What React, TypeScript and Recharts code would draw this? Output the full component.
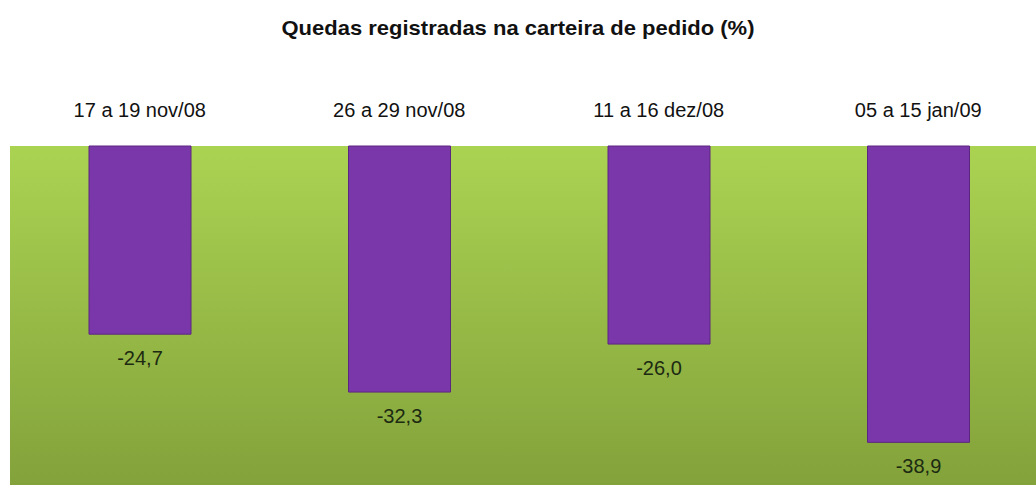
import { BarChart, Bar, XAxis, YAxis, CartesianGrid, LabelList } from "recharts";

const periods = ["17 a 19 nov/08", "26 a 29 nov/08", "11 a 16 dez/08", "05 a 15 jan/09"];
const drops = [-24.7, -32.3, -26.0, -38.9];

const chartData = periods.map((period, i) => ({ period, drop: drops[i] }));

const font = "'Liberation Sans', Arial, sans-serif";

const PeriodTick = ({ x, y, payload }: any) => (
  <text x={x} y={y} dy={-21} textAnchor="middle" fontFamily={font} fontSize={20} fill="#111">
    {payload.value}
  </text>
);

const DropLabel = ({ x, y, width, height, value }: any) => {
  const bottom = Math.max(y, y + height);
  return (
    <text
      x={x + width / 2}
      y={bottom + 31}
      textAnchor="middle"
      fontFamily={font}
      fontSize={20}
      fill="#1c2a12"
    >
      {Number(value).toFixed(1).replace(".", ",")}
    </text>
  );
};

export default function App() {
  return (
    <div style={{ position: "absolute", left: 0, top: 0, width: 1036, height: 485, overflow: "hidden", background: "#fff" }}>
      <svg width={1036} height={60} style={{ position: "absolute", left: 0, top: 0 }}>
        <text
          x={518}
          y={35}
          textAnchor="middle"
          fontFamily={font}
          fontWeight="bold"
          fontSize={21}
          textLength={473}
          lengthAdjust="spacingAndGlyphs"
          fill="#111"
        >
          Quedas registradas na carteira de pedido (%)
        </text>
      </svg>
      <BarChart
        width={1048}
        height={485}
        data={chartData}
        margin={{ top: 106, right: 0, left: 10, bottom: 0 }}
      >
        <defs>
          <linearGradient id="greenBg" x1="0" y1="0" x2="0" y2="1">
            <stop offset="0%" stopColor="#abd352" />
            <stop offset="100%" stopColor="#83a23b" />
          </linearGradient>
        </defs>
        <CartesianGrid fill="url(#greenBg)" stroke="none" horizontal={false} vertical={false} />
        <XAxis
          dataKey="period"
          orientation="top"
          height={40}
          axisLine={false}
          tickLine={false}
          tick={<PeriodTick />}
          interval={0}
        />
        <YAxis hide domain={[-44.5, 0]} />
        <Bar dataKey="drop" fill="#7a37a9" stroke="#5b2680" strokeWidth={1} barSize={102} isAnimationActive={false}>
          <LabelList dataKey="drop" content={<DropLabel />} />
        </Bar>
      </BarChart>
    </div>
  );
}
